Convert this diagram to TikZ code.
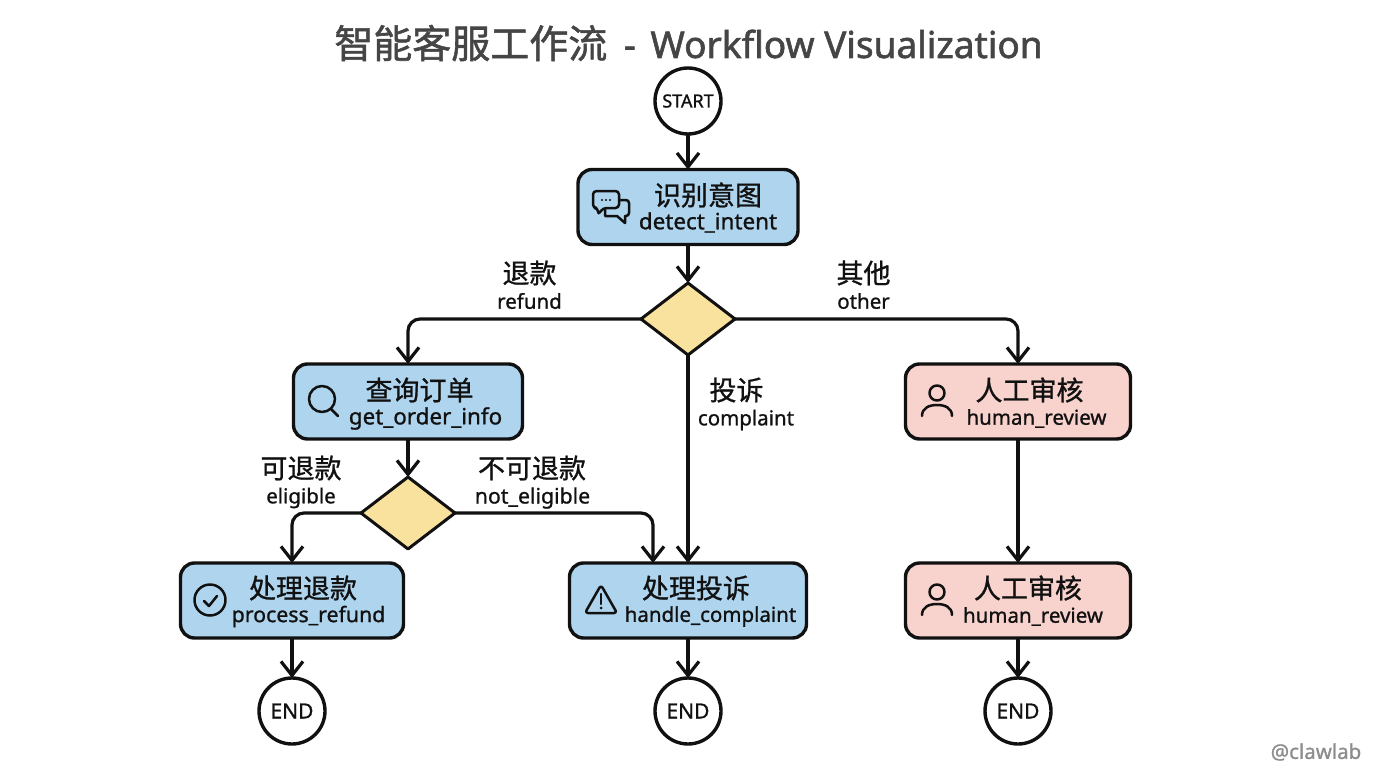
\documentclass[tikz,border=0pt]{standalone}
\usepackage{fontspec}
\setmainfont{Noto Sans}[FakeBold=1.0]
\newfontfamily\zhfont{Noto Sans CJK SC}[FakeBold=1.0]
\newfontfamily\titlefont{Noto Sans}[FakeBold=1.6]
\newfontfamily\titlezhfont{Noto Sans CJK SC}[FakeBold=1.4]
\usetikzlibrary{arrows.meta,shapes.geometric}

\definecolor{ink}{HTML}{111111}
\definecolor{titleink}{HTML}{454545}
\definecolor{stepblue}{HTML}{AED4EE}
\definecolor{stepred}{HTML}{F8D2CD}
\definecolor{gateyellow}{HTML}{F9E29E}

\tikzset{
	stepbox/.style={rounded corners=14pt,draw=ink,line width=3.4pt,minimum height=75pt,outer sep=0pt},
	blue/.style={stepbox,fill=stepblue},
	pink/.style={stepbox,fill=stepred},
	gate/.style={diamond,aspect=1.3,draw=ink,line width=3pt,fill=gateyellow,minimum width=94pt,minimum height=72pt,inner sep=0pt,outer sep=0pt,line join=round},
	round/.style={circle,draw=ink,line width=3.4pt,fill=white,minimum size=66pt,inner sep=0pt,outer sep=0pt,text=ink},
	flow/.style={-{Straight Barb[length=14pt,width=22pt,line width=3.2pt]},draw=ink,line width=3.2pt,rounded corners=12pt},
	zh/.style={font=\zhfont\fontsize{27}{30}\selectfont,text=ink,inner sep=0pt},
	en/.style={font=\fontsize{20.5}{24}\selectfont,text=ink,inner sep=0pt},
	iconline/.style={draw=ink,line width=2.5pt,line cap=round,line join=round},
	pics/chat/.style={code={
		\draw[iconline,rounded corners=3.5pt] (-18,-14) -- (8,-14) -- (8,3) -- (-8,3) -- (-13,10) -- (-13,3) -- (-18,3) -- cycle;
		\draw[iconline,rounded corners=3pt] (8,-5) -- (18,-5) -- (18,11) -- (14,11);
		\draw[iconline] (14,11) -- (14,18) -- (6,11) -- (-6,11) -- (-6,4);
		\fill[ink] (-9,-5) circle (1.2) (-5,-5) circle (1.2) (-1,-5) circle (1.2);
	}},
	pics/lens/.style={code={
		\draw[iconline] (0,0) circle (13);
		\draw[iconline] (9,10) -- (16,17);
	}},
	pics/tick/.style={code={
		\draw[iconline] (0,0) circle (15.5);
		\draw[iconline] (-6,1) -- (-1,6) -- (7,-4);
	}},
	pics/warn/.style={code={
		\draw[iconline,rounded corners=3pt] (0,-15) -- (16,13) -- (-16,13) -- cycle;
		\draw[iconline] (0,-6) -- (0,4);
		\fill[ink] (0,8) circle (1.5);
	}},
	pics/person/.style={code={
		\draw[iconline] (0,-7) circle (7.5);
		\draw[iconline] (-15,16) .. controls (-15,8) and (-8,5) .. (0,5) .. controls (8,5) and (15,8) .. (15,16);
	}}
}

\begin{document}
\begin{tikzpicture}[x=1pt,y=-1pt]

	\useasboundingbox (0,0) rectangle (1376,768);

	\node[text=titleink,inner sep=0pt,font=\titlefont\fontsize{37}{44}\selectfont] (title) at (688.5,43) {{\titlezhfont\fontsize{39}{44}\selectfont 智能客服工作流}\hspace{7pt} - \hspace{5pt}Workflow Visualization};

	% start and first step
	\node[round,font=\fontsize{18}{22}\selectfont] (start) at (688,101) {START};
	\node[blue,minimum width=220pt] (detect) at (688,207) {};
	\pic at (611,205) {chat};
	\node[zh] (detectzh) at (708,195) {识别意图};
	\node[en,font=\fontsize{22.4}{24}\selectfont] (detecten) at (708,222.5) {detect\_intent};
	\node[gate] (intentgate) at (688,319) {};

	% refund branch
	\node[blue,minimum width=229pt] (order) at (408,401.5) {};
	\pic at (322,399) {lens};
	\node[zh] (orderzh) at (419.5,390) {查询订单};
	\node[en,font=\fontsize{22.4}{24}\selectfont] (orderen) at (425.5,418.5) {get\_order\_info};
	\node[gate] (refundgate) at (408,513) {};
	\node[blue,minimum width=223pt] (refund) at (292,600.5) {};
	\pic at (210,600) {tick};
	\node[zh] (refundzh) at (303,588) {处理退款};
	\node[en,font=\fontsize{21.3}{24}\selectfont] (refunden) at (308.5,616.5) {process\_refund};
	\node[round,font=\fontsize{21}{24}\selectfont] (endrefund) at (292,711) {END};

	% complaint branch
	\node[blue,minimum width=237pt] (handle) at (688,600.5) {};
	\pic at (601,600) {warn};
	\node[zh] (handlezh) at (696,588) {处理投诉};
	\node[en] (handleen) at (710.5,616.5) {handle\_complaint};
	\node[round,font=\fontsize{21}{24}\selectfont] (endhandle) at (688,711) {END};
	\coordinate (handlein) at (653,563);

	% other branch
	\node[pink,minimum width=225pt] (review) at (1018,401.5) {};
	\pic at (937,400) {person};
	\node[zh] (reviewzh) at (1029.5,390) {人工审核};
	\node[en] (reviewen) at (1036.5,418.5) {human\_review};
	\node[pink,minimum width=225pt] (reviewb) at (1018,600.5) {};
	\pic at (937,599) {person};
	\node[zh] (reviewbzh) at (1028,588) {人工审核};
	\node[en] (reviewben) at (1033,616.5) {human\_review};
	\node[round,font=\fontsize{21}{24}\selectfont] (endreview) at (1018,711) {END};

	% connectors
	\draw[flow] (start) -- (detect);
	\draw[flow] (detect) -- (intentgate);
	\draw[flow] (intentgate.west) -| (order.north);
	\draw[flow] (intentgate.east) -| (review.north);
	\draw[flow] (intentgate.south) -- (handle.north);
	\draw[flow] (order) -- (refundgate);
	\draw[flow] (refundgate.west) -| (refund.north);
	\draw[flow] (refundgate.east) -| (handlein);
	\draw[flow] (review) -- (reviewb);
	\draw[flow] (refund) -- (endrefund);
	\draw[flow] (handle) -- (endhandle);
	\draw[flow] (reviewb) -- (endreview);

	% branch labels
	\node[zh] (refundlabel) at (529.5,273) {退款};
	\node[en] (refundlabelen) at (529.5,301) {refund};
	\node[zh] (otherlabel) at (863.5,273) {其他};
	\node[en] (otherlabelen) at (863.5,301) {other};
	\node[zh] (complaintlabel) at (736.5,390) {投诉};
	\node[en] (complaintlabelen) at (746,420) {complaint};
	\node[zh] (eligiblelabel) at (301,468) {可退款};
	\node[en] (eligiblelabelen) at (301,498) {eligible};
	\node[zh] (noteligiblelabel) at (532,468) {不可退款};
	\node[en,font=\fontsize{21.3}{24}\selectfont] (noteligiblelabelen) at (532.5,498) {not\_eligible};

	\node[text=black!45,inner sep=0pt,font=\fontsize{20.5}{24}\selectfont] (mark) at (1316,752) {@clawlab};

\end{tikzpicture}
\end{document}
